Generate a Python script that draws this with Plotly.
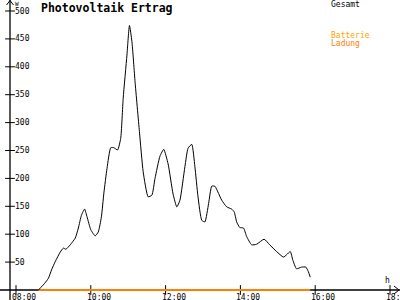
import plotly.graph_objects as go

# ---- data ----
TIMES = ["08:36", "08:46", "08:52", "08:57", "09:03", "09:11", "09:16", "09:20", "09:27",
         "09:35", "09:40", "09:45", "09:50", "09:54", "10:00", "10:07", "10:12", "10:17",
         "10:21", "10:26", "10:32", "10:37", "10:43", "10:48", "10:52", "10:58", "11:02",
         "11:06", "11:11", "11:18", "11:24", "11:32", "11:38", "11:43", "11:51", "11:57",
         "12:04", "12:12", "12:18", "12:23", "12:31", "12:36", "12:42", "12:47", "12:52",
         "12:58", "13:03", "13:09", "13:14", "13:19", "13:25", "13:30", "13:38", "13:46",
         "13:50", "13:54", "13:59", "14:05", "14:10", "14:18", "14:26", "14:38", "14:47",
         "14:58", "15:09", "15:14", "15:20", "15:24", "15:30", "15:38", "15:45", "15:49",
         "15:52"]
GESAMT = [0, 12, 21, 36, 51, 68, 75, 73, 81,
          93, 111, 134, 145, 131, 108, 97, 104, 131,
          174, 218, 255, 255, 251, 272, 344, 421, 474,
          445, 373, 284, 212, 167, 170, 200, 240, 252,
          226, 172, 149, 161, 221, 254, 261, 221, 167,
          125, 122, 155, 186, 186, 173, 161, 149, 145,
          140, 122, 112, 111, 96, 81, 82, 91, 81,
          69, 59, 63, 69, 54, 38, 41, 41, 33,
          23]
BATT_TIMES = ["08:36", "15:52"]
BATT_LADUNG = [0, 0]

X_TICKS = [8, 10, 12, 14, 16, 18]
X_TICK_LABELS = ["08:00", "10:00", "12:00", "14:00", "16:00", "18:"]
Y_TICKS = [50, 100, 150, 200, 250, 300, 350, 400, 450, 500]
Y_TICK_LABELS = [str(v) for v in Y_TICKS]

TITLE = "Photovoltaik Ertrag"
SERIES_NAMES = ["Gesamt", "Batterie", "Ladung"]


def to_hours(t):
    h, m = t.split(":")
    return int(h) + int(m) / 60.0


x_main = [to_hours(t) for t in TIMES]
x_batt = [to_hours(t) for t in BATT_TIMES]

# ---- layout geometry ----
W, H = 400, 300
PX_PER_H = 37.4
PX_PER_UNIT = 0.558
X0 = 8 - 16 / PX_PER_H
X1 = X0 + W / PX_PER_H
Y0 = -10 / PX_PER_UNIT
Y1 = Y0 + H / PX_PER_UNIT
YAXIS_AT = X0 + 10 / PX_PER_H  # position of vertical axis

MONO = "DejaVu Sans Mono"
ORANGE = "#FF8000"
GOLD = "#FFA500"

fig = go.Figure()

# axis lines
fig.add_shape(type="line", xref="paper", yref="y", x0=0, x1=1, y0=0, y1=0,
              line=dict(color="black", width=1.3), layer="below")
fig.add_shape(type="line", xref="x", yref="paper", x0=YAXIS_AT, x1=YAXIS_AT, y0=0, y1=1,
              line=dict(color="black", width=1.3), layer="below")
# arrow heads
ah = 4 / PX_PER_UNIT
fig.add_shape(type="path", xref="paper", yref="y",
              path=f"M {1-6/W},{ah} L {1-1/W},0 L {1-6/W},{-ah}",
              line=dict(color="black", width=1))
fig.add_shape(type="path", xref="x", yref="paper",
              path=f"M {YAXIS_AT-3.5/PX_PER_H},{1-5/H} L {YAXIS_AT},{1-0.5/H} L {YAXIS_AT+3.5/PX_PER_H},{1-5/H}",
              line=dict(color="black", width=1))

# tick marks
fig.add_trace(go.Scatter(x=X_TICKS, y=[0] * len(X_TICKS), mode="markers",
                         marker=dict(symbol="line-ns", size=7, line=dict(color="black", width=1)),
                         showlegend=False, hoverinfo="skip", cliponaxis=False))
fig.add_trace(go.Scatter(x=[YAXIS_AT] * len(Y_TICKS), y=Y_TICKS, mode="markers",
                         marker=dict(symbol="line-ew", size=7, line=dict(color="black", width=1)),
                         showlegend=False, hoverinfo="skip", cliponaxis=False))

# series
fig.add_trace(go.Scatter(x=x_batt, y=BATT_LADUNG, mode="lines", name="Batterie Ladung",
                         line=dict(color=ORANGE, width=2), showlegend=False))
fig.add_trace(go.Scatter(x=x_main, y=GESAMT, mode="lines", name=SERIES_NAMES[0],
                         line=dict(color="black", width=1, shape="spline", smoothing=0.5),
                         showlegend=False))

ann = []
for v, lab in zip(X_TICKS, X_TICK_LABELS):
    ann.append(dict(x=v, y=0, xref="x", yref="paper", text=lab, showarrow=False,
                    xanchor="left", yanchor="bottom", xshift=-6, yshift=-4,
                    font=dict(family=MONO, size=8, color="black")))
for v, lab in zip(Y_TICKS, Y_TICK_LABELS):
    ann.append(dict(x=YAXIS_AT, y=v, xref="x", yref="y", text=lab, showarrow=False,
                    xanchor="left", yanchor="middle", xshift=3,
                    font=dict(family=MONO, size=8, color="black")))

ann += [
    dict(x=39 / W, y=1 - 7.5 / H, xref="paper", yref="paper", text=f"<b>{TITLE}</b>",
         showarrow=False, xanchor="left", yanchor="middle",
         font=dict(family=MONO, size=11.5, color="black")),
    dict(x=329 / W, y=1 - 4.5 / H, xref="paper", yref="paper", text=SERIES_NAMES[0],
         showarrow=False, xanchor="left", yanchor="middle",
         font=dict(family=MONO, size=8, color="black")),
    dict(x=329 / W, y=1 - 35.5 / H, xref="paper", yref="paper", text=SERIES_NAMES[1],
         showarrow=False, xanchor="left", yanchor="middle",
         font=dict(family=MONO, size=8, color=GOLD)),
    dict(x=329 / W, y=1 - 43.5 / H, xref="paper", yref="paper", text=SERIES_NAMES[2],
         showarrow=False, xanchor="left", yanchor="middle",
         font=dict(family=MONO, size=8, color=ORANGE)),
    dict(x=387 / W, y=1 - 280.5 / H, xref="paper", yref="paper", text="h",
         showarrow=False, xanchor="center", yanchor="middle",
         font=dict(family=MONO, size=8, color="black")),
    dict(x=17 / W, y=1 - 3 / H, xref="paper", yref="paper", text="W",
         showarrow=False, xanchor="center", yanchor="middle",
         font=dict(family=MONO, size=6, color="black")),
]

fig.update_layout(
    width=W, height=H,
    margin=dict(l=0, r=0, t=0, b=0),
    paper_bgcolor="white", plot_bgcolor="white",
    xaxis=dict(range=[X0, X1], visible=False, fixedrange=True),
    yaxis=dict(range=[Y0, Y1], visible=False, fixedrange=True),
    annotations=ann,
    showlegend=False,
)

fig.write_html("out.html")
